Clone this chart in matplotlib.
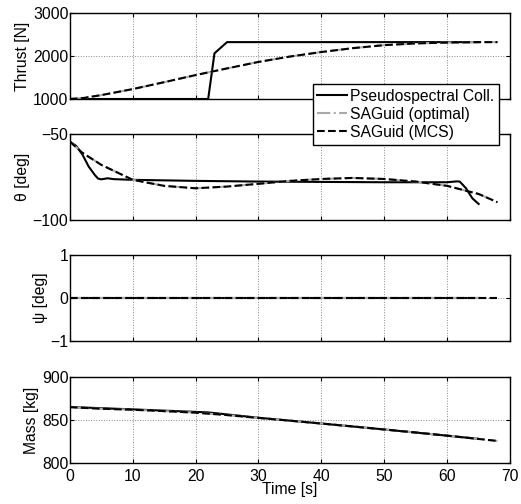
import numpy as np
import matplotlib.pyplot as plt

plt.rcParams['font.family'] = ['Liberation Sans', 'DejaVu Sans']
plt.rcParams['font.size'] = 11.3

# Pseudospectral collocation solution
t_ps = [0, 1, 2, 3, 4, 4.5, 5, 6, 7, 10, 15, 20, 25, 30, 35, 40, 45, 50, 55, 60, 61.5, 62, 63, 64, 65]
theta_ps = [-54.5, -57, -62, -69, -74, -76, -76.4, -75.8, -76.3, -76.7, -77.0, -77.3, -77.5, -77.7, -77.8, -77.9, -78.0, -78.1, -78.1, -78.1, -77.6, -77.7, -81.6, -87.4, -90.7]
t_ps_thr = [0, 22, 23, 25, 65]
thrust_ps = [1000, 1000, 2060, 2320, 2320]
t_ps_m = [0, 10, 20, 22, 30, 40, 50, 60, 65]
mass_ps = [865, 862.2, 859.3, 858.7, 852.5, 845.8, 838.9, 831.7, 828.0]

# SAGuid solutions (optimal and MCS)
t_sa = [0, 2, 5, 10, 15, 20, 25, 30, 35, 40, 45, 50, 55, 60, 65, 68]
thrust_sa = [1000, 1020, 1090, 1230, 1390, 1555, 1710, 1860, 1985, 2090, 2180, 2250, 2290, 2310, 2320, 2320]
theta_sa = [-54.5, -61, -68, -76.7, -80.2, -81.6, -80.6, -79.0, -77.3, -76.2, -75.6, -76.2, -77.7, -80.2, -84.9, -89.7]
mass_sa = [864.9, 864.0, 863.0, 861.8, 860.2, 858.4, 855.6, 852.3, 849.1, 845.8, 842.4, 838.9, 835.4, 831.7, 827.9, 825.6]

fig = plt.figure(figsize=(5.21, 5.04), dpi=100)
left, width, h = 0.134, 0.845, 0.171
bottoms = [1 - 99 / 504, 1 - 220 / 504, 1 - 341 / 504, 1 - 463 / 504]
axes = [fig.add_axes([left, b, width, h]) for b in bottoms]

def style(ax, ylim, yticks, ylabel, last=False):
    ax.set_xlim(0, 70)
    ax.set_ylim(*ylim)
    ax.set_yticks(yticks)
    ax.set_xticks(range(0, 71, 10))
    if not last:
        ax.set_xticklabels([])
    ax.set_ylabel(ylabel, labelpad=2)
    ax.grid(True, linestyle=':', color='#888888', linewidth=0.7)
    ax.tick_params(direction='in', length=3, top=True, right=True, pad=1)
    ax.tick_params(axis='x', pad=4)
    for s in ax.spines.values():
        s.set_linewidth(1.0)

ax = axes[0]
l1, = ax.plot(t_ps_thr, thrust_ps, 'k-', lw=1.5)
l2, = ax.plot(t_sa, thrust_sa, '-.', color='#aaaaaa', lw=1.5)
l3, = ax.plot(t_sa, thrust_sa, 'k--', lw=1.5)
style(ax, (1000, 3000), [1000, 2000, 3000], 'Thrust [N]')

ax = axes[1]
ax.plot(t_ps, theta_ps, 'k-', lw=1.5)
ax.plot(t_sa, theta_sa, '-.', color='#aaaaaa', lw=1.5)
ax.plot(t_sa, theta_sa, 'k--', lw=1.5)
style(ax, (-100, -50), [-100, -50], 'θ [deg]')

ax = axes[2]
ax.plot([0, 65], [0, 0], 'k-', lw=1.5)
ax.plot([0, 68], [0, 0], '-.', color='#aaaaaa', lw=1.5)
ax.plot([0, 68], [0, 0], 'k--', lw=1.5)
style(ax, (-1, 1), [-1, 0, 1], 'ψ [deg]')

ax = axes[3]
ax.plot(t_ps_m, mass_ps, 'k-', lw=1.5)
ax.plot(t_sa, mass_sa, '-.', color='#aaaaaa', lw=1.5)
ax.plot(t_sa, mass_sa, 'k--', lw=1.5)
style(ax, (800, 900), [800, 850, 900], 'Mass [kg]', last=True)
ax.set_xlabel('Time [s]', labelpad=-1)

leg = fig.legend([l1, l2, l3], ['Pseudospectral Coll.', 'SAGuid (optimal)', 'SAGuid (MCS)'],
                 loc='upper right', bbox_to_anchor=(499 / 521, 1 - 84 / 504),
                 fancybox=False, framealpha=1, edgecolor='k', handlelength=1.9,
                 borderpad=0.3, labelspacing=0.2, handletextpad=0.2, borderaxespad=0)
leg.get_frame().set_linewidth(1.0)

fig.savefig('out.png', dpi=100)
